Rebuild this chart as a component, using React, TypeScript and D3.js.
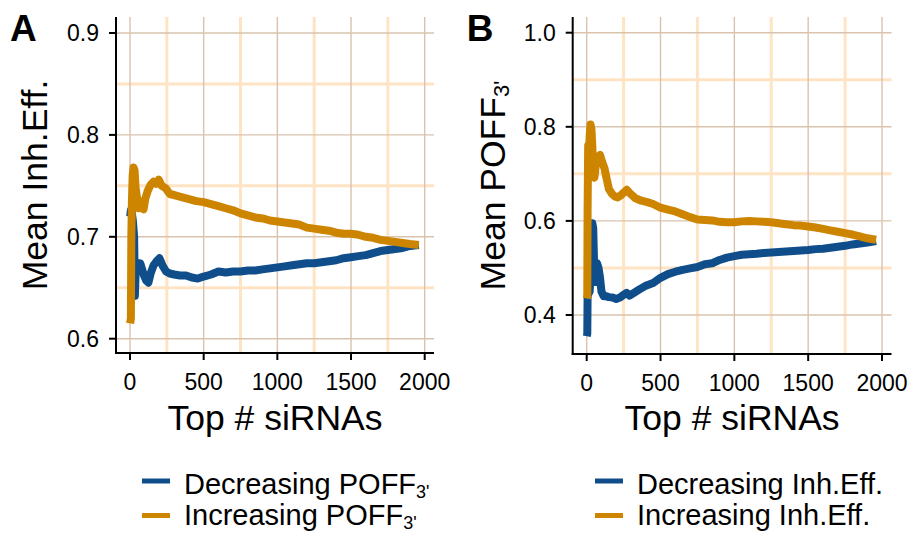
import React from "react";
import * as d3 from "d3";

// ---------- data ----------
const xTicks = [0, 500, 1000, 1500, 2000];
const xMinor = [250, 750, 1250, 1750];
const yTicksA = [0.6, 0.7, 0.8, 0.9];
const yMinorA = [0.65, 0.75, 0.85];
const yTicksB = [0.4, 0.6, 0.8, 1.0];
const yMinorB = [0.5, 0.7, 0.9];

// Panel A: Mean Inh.Eff. ranked by POFF3'
const aDecreasing: [number, number][] = [
  [1, 0.72], [6, 0.726], [12, 0.724], [20, 0.715], [28, 0.70], [33, 0.642], [37, 0.66], [42, 0.675],
  [50, 0.672], [60, 0.668], [70, 0.674], [80, 0.669], [95, 0.662], [110, 0.657], [125, 0.655],
  [140, 0.664], [160, 0.672], [180, 0.676], [200, 0.679], [220, 0.672], [245, 0.666], [270, 0.664],
  [300, 0.663], [340, 0.662], [380, 0.662], [420, 0.66], [460, 0.659], [500, 0.661], [550, 0.663],
  [600, 0.666], [650, 0.665], [700, 0.666], [750, 0.666], [800, 0.667], [850, 0.667], [900, 0.668],
  [950, 0.669], [1000, 0.670], [1050, 0.671], [1100, 0.672], [1150, 0.673], [1200, 0.674],
  [1250, 0.674], [1300, 0.675], [1350, 0.676], [1400, 0.677], [1450, 0.679], [1500, 0.680],
  [1550, 0.681], [1600, 0.682], [1650, 0.684], [1700, 0.686], [1750, 0.687], [1800, 0.688],
  [1850, 0.689], [1900, 0.691], [1960, 0.692],
];
const aIncreasing: [number, number][] = [
  [1, 0.615], [6, 0.62], [9, 0.70], [13, 0.735], [18, 0.76], [24, 0.768], [31, 0.765], [38, 0.748],
  [48, 0.738], [58, 0.728], [68, 0.735], [80, 0.728], [92, 0.727], [105, 0.738], [120, 0.745],
  [140, 0.751], [160, 0.754], [178, 0.752], [195, 0.756], [215, 0.750], [240, 0.748], [270, 0.742],
  [300, 0.741], [350, 0.739], [400, 0.737], [450, 0.735], [500, 0.734], [550, 0.732], [600, 0.730],
  [650, 0.728], [700, 0.726], [750, 0.723], [800, 0.721], [850, 0.719], [900, 0.718], [950, 0.716],
  [1000, 0.715], [1050, 0.714], [1100, 0.713], [1150, 0.712], [1200, 0.709], [1250, 0.708],
  [1300, 0.707], [1350, 0.706], [1400, 0.704], [1450, 0.703], [1500, 0.703], [1550, 0.702],
  [1600, 0.700], [1650, 0.699], [1700, 0.697], [1750, 0.696], [1800, 0.695], [1850, 0.694],
  [1900, 0.693], [1960, 0.692],
];

// Panel B: Mean POFF3' ranked by Inh.Eff.
const bDecreasing: [number, number][] = [
  [1, 0.355], [4, 0.36], [6, 0.44], [12, 0.445], [20, 0.45], [30, 0.50], [38, 0.595], [44, 0.585],
  [50, 0.51], [60, 0.47], [70, 0.51], [80, 0.50], [90, 0.48], [100, 0.45], [115, 0.44], [130, 0.44],
  [150, 0.438], [175, 0.437], [200, 0.434], [225, 0.437], [250, 0.443], [270, 0.447], [290, 0.441],
  [320, 0.447], [360, 0.455], [400, 0.462], [450, 0.468], [500, 0.479], [550, 0.487], [600, 0.492],
  [650, 0.496], [700, 0.499], [750, 0.502], [800, 0.508], [850, 0.510], [900, 0.517], [950, 0.522],
  [1000, 0.525], [1050, 0.528], [1100, 0.529], [1150, 0.530], [1200, 0.532], [1250, 0.533],
  [1300, 0.534], [1350, 0.535], [1400, 0.536], [1450, 0.537], [1500, 0.538], [1550, 0.540],
  [1600, 0.541], [1650, 0.543], [1700, 0.545], [1750, 0.547], [1800, 0.550], [1850, 0.552],
  [1900, 0.554], [1960, 0.557],
];
const bIncreasing: [number, number][] = [
  [1, 0.435], [4, 0.44], [6, 0.62], [10, 0.76], [15, 0.72], [20, 0.78], [26, 0.805], [32, 0.795],
  [38, 0.76], [44, 0.70], [52, 0.692], [62, 0.72], [75, 0.735], [90, 0.74], [105, 0.725],
  [120, 0.712], [135, 0.69], [150, 0.668], [170, 0.658], [190, 0.652], [210, 0.650], [230, 0.654],
  [250, 0.660], [272, 0.666], [295, 0.658], [330, 0.648], [370, 0.643], [410, 0.640], [450, 0.636],
  [500, 0.628], [550, 0.624], [600, 0.620], [650, 0.614], [700, 0.608], [750, 0.603], [800, 0.602],
  [850, 0.601], [900, 0.598], [950, 0.597], [1000, 0.597], [1050, 0.599], [1100, 0.600],
  [1150, 0.599], [1200, 0.598], [1250, 0.597], [1300, 0.595], [1350, 0.593], [1400, 0.591],
  [1450, 0.590], [1500, 0.588], [1550, 0.586], [1600, 0.583], [1650, 0.580], [1700, 0.577],
  [1750, 0.574], [1800, 0.571], [1850, 0.567], [1900, 0.563], [1960, 0.560],
];

const BLUE = "#104E8B";
const ORANGE = "#CD8500";
const MAJOR = "#d9c3ae";
const MINOR = "#ffe4c4";
const FONT = "'Liberation Sans', Arial, Helvetica, sans-serif";

type PanelProps = {
  letter: string;
  left: number; right: number; top: number; bottom: number;
  x0: number; x2000: number;
  yTicks: number[]; yMinor: number[];
  yDomain: [number, number]; yRange: [number, number];
  dec: [number, number][]; inc: [number, number][];
  yTitle: React.ReactNode;
  yTitleX: number;
  legendDec: React.ReactNode; legendInc: React.ReactNode;
  legendX: number;
};

function Panel(p: PanelProps) {
  const x = d3.scaleLinear().domain([0, 2000]).range([p.x0, p.x2000]);
  const y = d3.scaleLinear().domain(p.yDomain).range(p.yRange);
  const line = d3.line<[number, number]>().x(d => x(d[0])).y(d => y(d[1]));
  const fmt = (v: number) => v.toFixed(1);
  const cy = (p.top + p.bottom) / 2;
  const cx = (p.left + p.right) / 2;
  return (
    <g fontFamily={FONT}>
      {/* grid */}
      {xMinor.map(v => (
        <line key={"xm" + v} x1={x(v)} x2={x(v)} y1={p.top} y2={p.bottom} stroke={MINOR} strokeWidth={3} />
      ))}
      {p.yMinor.map(v => (
        <line key={"ym" + v} x1={p.left} x2={p.right} y1={y(v)} y2={y(v)} stroke={MINOR} strokeWidth={3} />
      ))}
      {xTicks.map(v => (
        <line key={"xM" + v} x1={x(v)} x2={x(v)} y1={p.top} y2={p.bottom} stroke={MAJOR} strokeWidth={1.4} />
      ))}
      {p.yTicks.map(v => (
        <line key={"yM" + v} x1={p.left} x2={p.right} y1={y(v)} y2={y(v)} stroke={MAJOR} strokeWidth={1.4} />
      ))}
      {/* lines */}
      <path d={line(p.dec) || ""} fill="none" stroke={BLUE} strokeWidth={8} strokeLinejoin="round" />
      <path d={line(p.inc) || ""} fill="none" stroke={ORANGE} strokeWidth={8} strokeLinejoin="round" />
      {/* axes */}
      <line x1={p.left} x2={p.left} y1={p.top} y2={p.bottom + 1} stroke="#000" strokeWidth={2} />
      <line x1={p.left - 1} x2={p.right} y1={p.bottom} y2={p.bottom} stroke="#000" strokeWidth={2} />
      {p.yTicks.map(v => (
        <g key={"yt" + v}>
          <line x1={p.left - 7} x2={p.left} y1={y(v)} y2={y(v)} stroke="#000" strokeWidth={2} />
          <text x={p.left - 17} y={y(v)} dy="0.36em" textAnchor="end" fontSize={23}>{fmt(v)}</text>
        </g>
      ))}
      {xTicks.map(v => (
        <g key={"xt" + v}>
          <line x1={x(v)} x2={x(v)} y1={p.bottom} y2={p.bottom + 7} stroke="#000" strokeWidth={2} />
          <text x={x(v)} y={p.bottom + 37} textAnchor="middle" fontSize={23}>{v}</text>
        </g>
      ))}
      {/* titles */}
      <text x={cx} y={430} textAnchor="middle" fontSize={35.5}>Top # siRNAs</text>
      <text transform={`translate(${p.yTitleX},${cy}) rotate(-90)`} textAnchor="middle" fontSize={35.5}>{p.yTitle}</text>
      <text x={p.left - 106} y={41} fontSize={37} fontWeight="bold">{p.letter}</text>
      {/* legend */}
      <line x1={p.legendX} x2={p.legendX + 28} y1={481} y2={481} stroke={BLUE} strokeWidth={5} />
      <line x1={p.legendX} x2={p.legendX + 28} y1={515.5} y2={515.5} stroke={ORANGE} strokeWidth={5} />
      <text x={p.legendX + 42} y={494} fontSize={29}>{p.legendDec}</text>
      <text x={p.legendX + 42} y={525} fontSize={29}>{p.legendInc}</text>
    </g>
  );
}

const Sub = () => (
  <tspan fontSize="0.62em" dy="0.2em">3'</tspan>
);

export default function App() {
  return (
    <svg width={912} height={533} style={{ position: "absolute", left: 0, top: 0, background: "#fff" }}>
      <rect width={912} height={533} fill="#fff" />
      <Panel
        letter="A"
        left={116} right={434} top={17} bottom={353}
        x0={130} x2000={424.7}
        yTicks={yTicksA} yMinor={yMinorA}
        yDomain={[0.6, 0.9]} yRange={[338.7, 33]}
        dec={aDecreasing} inc={aIncreasing}
        yTitle="Mean Inh.Eff."
        yTitleX={47}
        legendDec={<>Decreasing POFF<Sub /></>}
        legendInc={<>Increasing POFF<Sub /></>}
        legendX={142}
      />
      <Panel
        letter="B"
        left={572.7} right={891.5} top={17} bottom={354}
        x0={586.7} x2000={882}
        yTicks={yTicksB} yMinor={yMinorB}
        yDomain={[0.4, 1.0]} yRange={[315, 32.7]}
        dec={bDecreasing} inc={bIncreasing}
        yTitle={<>Mean POFF<Sub /></>}
        yTitleX={505}
        legendDec="Decreasing Inh.Eff."
        legendInc="Increasing Inh.Eff."
        legendX={595}
      />
    </svg>
  );
}
